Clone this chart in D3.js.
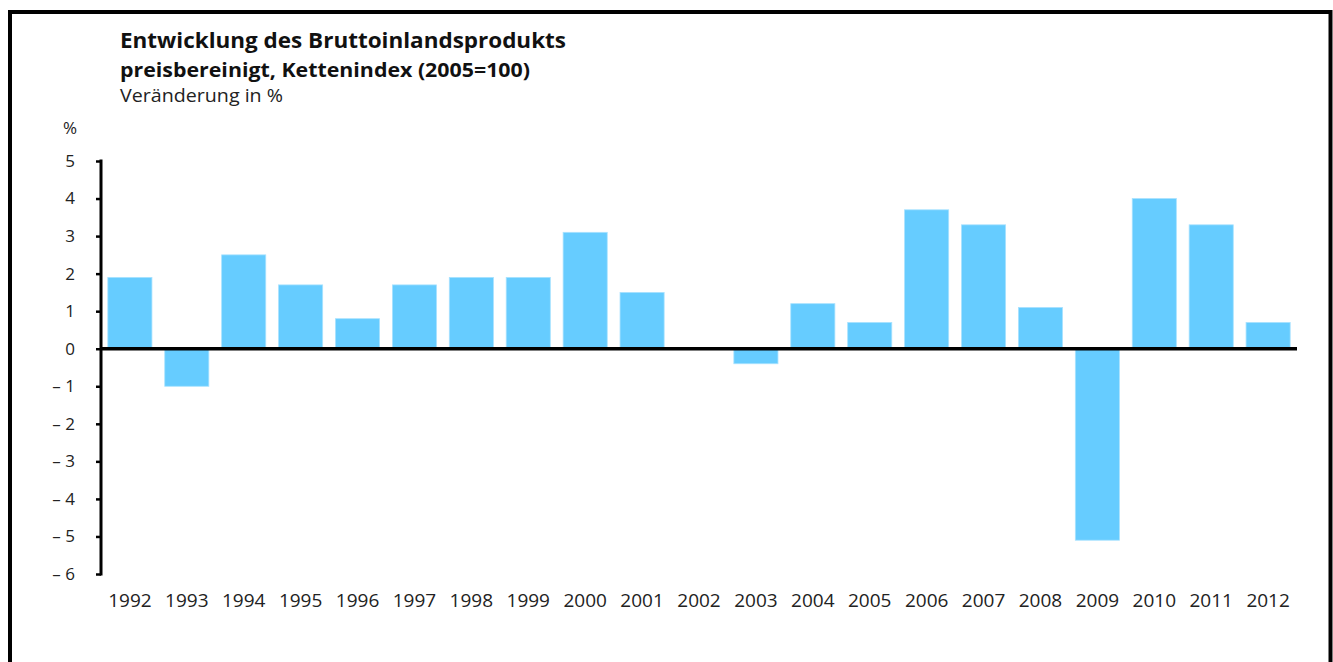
<!DOCTYPE html>
<html><head><meta charset="utf-8">
<script src="https://cdn.jsdelivr.net/npm/d3@7"></script>
<style>
html,body{margin:0;padding:0;background:#fff;}
svg{display:block;font-family:"Open Sans","Noto Sans",sans-serif;}
</style></head>
<body>
<svg id="chart" width="1333" height="662"></svg>
<script>
const years = ["1992","1993","1994","1995","1996","1997","1998","1999","2000","2001","2002","2003","2004","2005","2006","2007","2008","2009","2010","2011","2012"];
const values = [1.9,-1.0,2.5,1.7,0.8,1.7,1.9,1.9,3.1,1.5,0.0,-0.4,1.2,0.7,3.7,3.3,1.1,-5.1,4.0,3.3,0.7];
const yTicks = [5,4,3,2,1,0,-1,-2,-3,-4,-5,-6];
const titleLines = ["Entwicklung des Bruttoinlandsprodukts","preisbereinigt, Kettenindex (2005=100)","Veränderung in %"];

const svg = d3.select("#chart");
// frame
svg.append("rect").attr("x",10).attr("y",12).attr("width",1320.5).attr("height",720)
  .attr("fill","none").attr("stroke","#000").attr("stroke-width",4);

const x = d3.scaleBand().domain(years).range([101,1297]).paddingInner(0.225).paddingOuter(0.12);
const y = d3.scaleLinear().domain([-6,5]).range([574,161]);

// bars
svg.append("g").selectAll("rect").data(values).join("rect")
  .attr("x",(d,i)=>x(years[i]))
  .attr("width",x.bandwidth())
  .attr("y",d=>y(Math.max(0,d)))
  .attr("height",d=>Math.abs(y(d)-y(0)))
  .attr("fill","#66CCFF").attr("stroke","#A8E2FF").attr("stroke-width",0.8);

// y axis
const ya = d3.axisLeft(y).tickValues(yTicks).tickSize(5).tickPadding(21)
  .tickFormat(d=> d<0 ? "\u2013 " + Math.abs(d) : String(d));
const gy = svg.append("g").attr("transform","translate(101,0)").call(ya);
gy.select(".domain").attr("stroke","#000").attr("stroke-width",3).attr("d","M0,159.5V575.5");
gy.selectAll(".tick line").attr("stroke","#000").attr("stroke-width",2.5);
gy.selectAll(".tick text").attr("fill","#222").style("font-size","17px").style("font-family","Open Sans");

// zero line
svg.append("line").attr("x1",100).attr("x2",1297).attr("y1",y(0)).attr("y2",y(0))
  .attr("stroke","#000").attr("stroke-width",3.5);

// x labels
const xa = d3.axisBottom(x).tickSize(0).tickPadding(0);
const gx = svg.append("g").attr("transform","translate(0,593)").call(xa);
gx.select(".domain").remove();
gx.selectAll(".tick text").attr("fill","#222").style("font-size","19px").style("font-family","Open Sans");

// titles
svg.append("text").attr("x",120).attr("y",48).text(titleLines[0])
  .style("font-size","22px").style("font-weight","bold").attr("fill","#111").attr("textLength",446).attr("lengthAdjust","spacingAndGlyphs");
svg.append("text").attr("x",120).attr("y",77).text(titleLines[1])
  .style("font-size","20px").style("font-weight","bold").attr("fill","#111").attr("textLength",410).attr("lengthAdjust","spacingAndGlyphs");
svg.append("text").attr("x",120).attr("y",102).text(titleLines[2])
  .style("font-size","19px").attr("fill","#222").attr("textLength",163).attr("lengthAdjust","spacingAndGlyphs");
svg.append("text").attr("x",63).attr("y",134).text("%")
  .style("font-size","17px").attr("fill","#222");
</script>
</body></html>
